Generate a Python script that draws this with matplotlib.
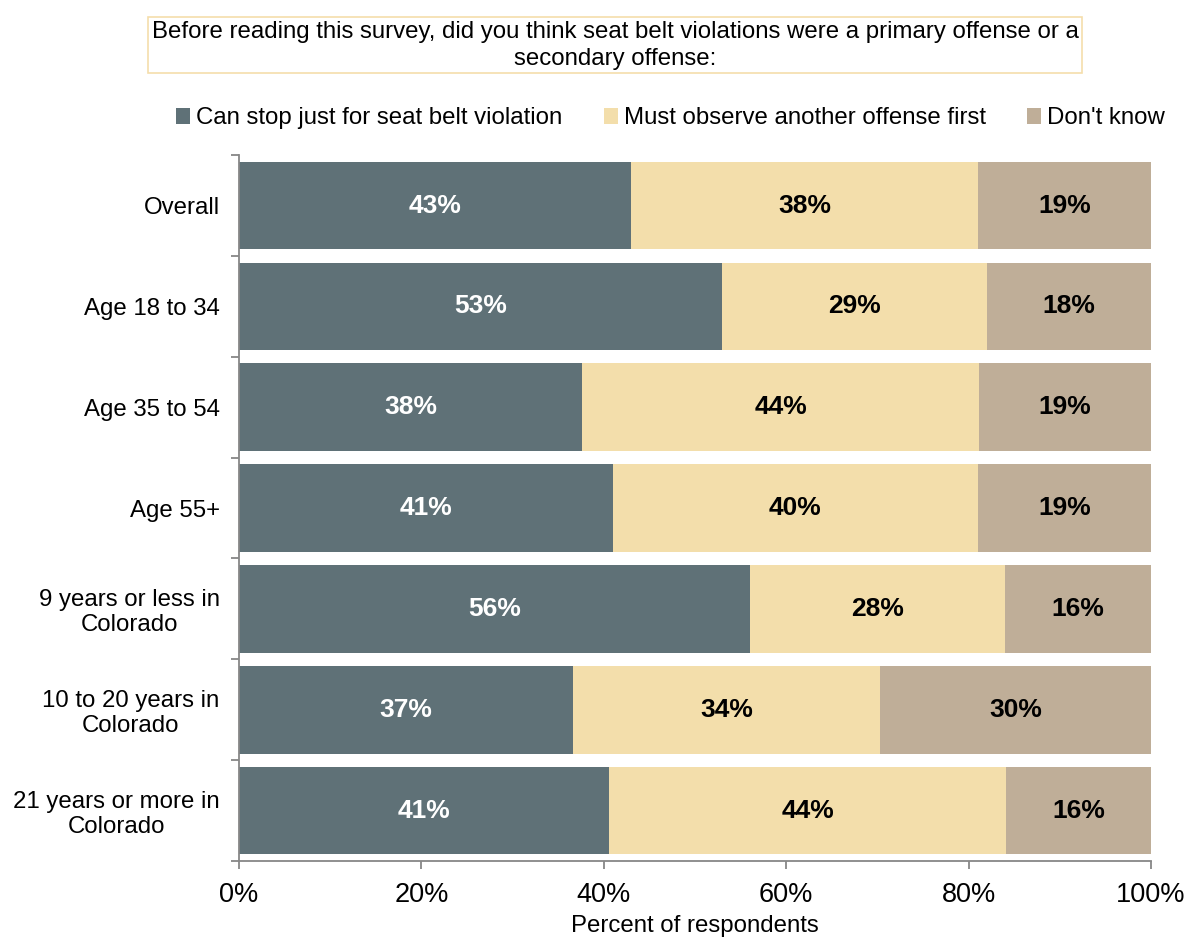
import matplotlib
matplotlib.use("Agg")
import matplotlib.pyplot as plt
import numpy as np
from matplotlib.patches import Patch

plt.rcParams['font.family'] = ['Liberation Sans', 'DejaVu Sans']

categories = ["Overall", "Age 18 to 34", "Age 35 to 54", "Age 55+",
              "9 years or less in\nColorado", "10 to 20 years in\nColorado",
              "21 years or more in\nColorado"]
series_names = ["Can stop just for seat belt violation",
                "Must observe another offense first",
                "Don't know"]
can_stop = [43, 53, 38, 41, 56, 37, 41]
must_observe = [38, 29, 44, 40, 28, 34, 44]
dont_know = [19, 18, 19, 19, 16, 30, 16]
x_ticks = [0, 20, 40, 60, 80, 100]
x_tick_labels = ["0%", "20%", "40%", "60%", "80%", "100%"]

colors = ["#5F7177", "#F3DEAB", "#BFAE98"]
label_colors = ["white", "black", "black"]

fig = plt.figure(figsize=(11.89, 9.4), dpi=100)
ax = fig.add_axes([0.201, 0.084, 0.767, 0.751])

data = np.array([can_stop, must_observe, dont_know], dtype=float)
# 100% stacked: each row scaled to fill the full width
shares = data / data.sum(axis=0) * 100
y = np.arange(len(categories))
left = np.zeros(len(categories))
for i in range(3):
    ax.barh(y, shares[i], left=left, height=0.87, color=colors[i],
            edgecolor='none')
    for j in range(len(categories)):
        ax.text(left[j] + shares[i][j] / 2, y[j], f"{int(data[i][j])}%",
                ha='center', va='center', fontsize=19, fontweight='bold',
                color=label_colors[i])
    left += shares[i]

ax.set_xlim(0, 100)
ax.set_ylim(len(categories) - 0.5, -0.5)
ax.set_yticks(y)
ax.set_yticklabels(categories, fontsize=17.3, multialignment='center',
                   linespacing=1.15)
ax.set_yticks(np.arange(-0.5, len(categories)), minor=True)
ax.tick_params(axis='y', which='major', length=0, pad=14)
ax.tick_params(axis='y', which='minor', length=6, color='#878787', width=1.3)
ax.set_xticks(x_ticks)
ax.set_xticklabels(x_tick_labels, fontsize=19.5)
ax.tick_params(axis='x', length=6, color='#878787', width=1.3, pad=9)
ax.set_xlabel("Percent of respondents", fontsize=17.3, labelpad=5)
for s in ['top', 'right']:
    ax.spines[s].set_visible(False)
for s in ['left', 'bottom']:
    ax.spines[s].set_color('#878787')
    ax.spines[s].set_linewidth(1.3)

fig.text(0.5175, 0.952,
         "Before reading this survey, did you think seat belt violations were a primary offense or a\nsecondary offense:",
         ha='center', va='center', fontsize=17.3, linespacing=1.3,
         bbox=dict(boxstyle='square,pad=0.15', facecolor='white',
                   edgecolor='#F5DEAB', linewidth=1.2))

handles = [Patch(facecolor=c, edgecolor='none') for c in colors]
fig.legend(handles, series_names, loc='center', bbox_to_anchor=(0.564, 0.874),
           ncol=3, frameon=False, fontsize=17.3, handlelength=0.6,
           handleheight=0.6, handletextpad=0.25, columnspacing=1.7)

fig.savefig("out.png", dpi=100)
